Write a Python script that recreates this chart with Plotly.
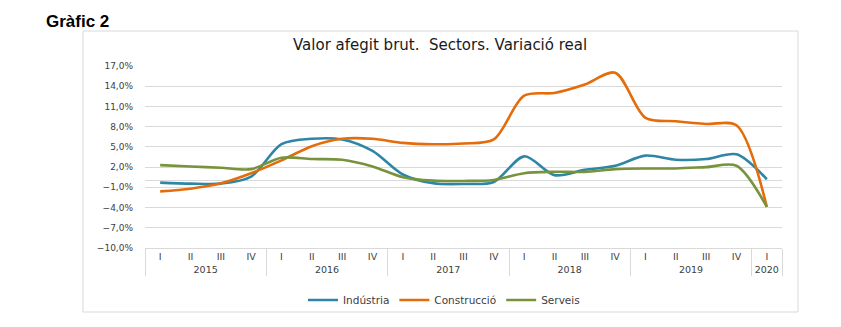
import plotly.graph_objects as go

years = ["2015"] * 4 + ["2016"] * 4 + ["2017"] * 4 + ["2018"] * 4 + ["2019"] * 4 + ["2020"]
quarters = ["I", "II", "III", "IV"] * 5 + ["I"]

industria = [-0.3, -0.45, -0.45, 0.6, 5.4, 6.2, 6.1, 4.4, 0.9, -0.4, -0.5, -0.2,
             3.6, 0.8, 1.6, 2.2, 3.7, 3.1, 3.2, 3.9, 0.2]
construccio = [-1.6, -1.2, -0.4, 1.1, 3.0, 5.1, 6.2, 6.2, 5.6, 5.4, 5.5, 6.1,
               12.6, 13.0, 14.25, 16.0, 9.3, 8.8, 8.4, 8.2, -3.9]
serveis = [2.3, 2.1, 1.9, 1.7, 3.4, 3.2, 3.1, 2.1, 0.5, 0.0, -0.05, 0.1,
           1.1, 1.3, 1.3, 1.7, 1.8, 1.8, 2.0, 2.2, -3.9]

series = [
    ("Indústria", industria, "#2E86A6"),
    ("Construcció", construccio, "#E46C0A"),
    ("Serveis", serveis, "#77933C"),
]

W, H = 841, 327
L, R, T, B = 145, 782, 66, 248  # plot area in pixels

def px(x):
    return (x - L) / (R - L)

def py(y):
    return (B - y) / (B - T)

fig = go.Figure()
for name, vals, col in series:
    fig.add_trace(go.Scatter(
        x=[years, quarters], y=vals, name=name, mode="lines",
        line=dict(color=col, width=2.6, shape="spline", smoothing=0.85),
    ))

grid = "#D9D9D9"
tickfont = dict(family="DejaVu Sans", size=9, color="#404040")

fig.update_layout(
    width=W, height=H,
    margin=dict(l=L, r=W - R, t=T, b=H - B),
    paper_bgcolor="white", plot_bgcolor="white",
    separators=",.",
    showlegend=True,
    legend=dict(orientation="h", x=px(444), xanchor="center", y=py(300), yanchor="middle",
                font=dict(family="DejaVu Sans", size=10.5, color="#404040"),
                itemwidth=30, tracegroupgap=0, bgcolor="rgba(0,0,0,0)"),
    xaxis=dict(type="multicategory", range=[-0.5, len(quarters) - 0.5],
               showgrid=False, showline=True, linecolor=grid, linewidth=1,
               showdividers=True, dividercolor=grid, dividerwidth=1,
               tickfont=dict(family="DejaVu Sans", size=9.5, color="#404040"),
               ticks="", zeroline=False),
    yaxis=dict(range=[-10, 17], tick0=-10, dtick=3, tickformat=".1f", ticksuffix="%",
               showgrid=True, gridcolor=grid, gridwidth=1,
               zeroline=True, zerolinecolor=grid, zerolinewidth=1,
               showline=False, tickfont=tickfont, ticklabelstandoff=11),
    annotations=[
        dict(text="Valor afegit brut.  Sectors. Variació real", xref="paper", yref="paper",
             x=px(440), y=py(45), xanchor="center", yanchor="middle", showarrow=False,
             font=dict(family="DejaVu Sans", size=15, color="#1a1a1a")),
        dict(text="<b>Gràfic 2</b>", xref="paper", yref="paper",
             x=px(44), y=py(21), xanchor="left", yanchor="middle", showarrow=False,
             font=dict(family="Liberation Sans", size=17, color="#000000")),
    ],
    shapes=[
        dict(type="rect", xref="paper", yref="paper", x0=px(83), x1=px(798), y0=py(312), y1=py(31),
             line=dict(color=grid, width=1), fillcolor="rgba(0,0,0,0)", layer="below"),
    ],
)

fig.write_html("out.html")
